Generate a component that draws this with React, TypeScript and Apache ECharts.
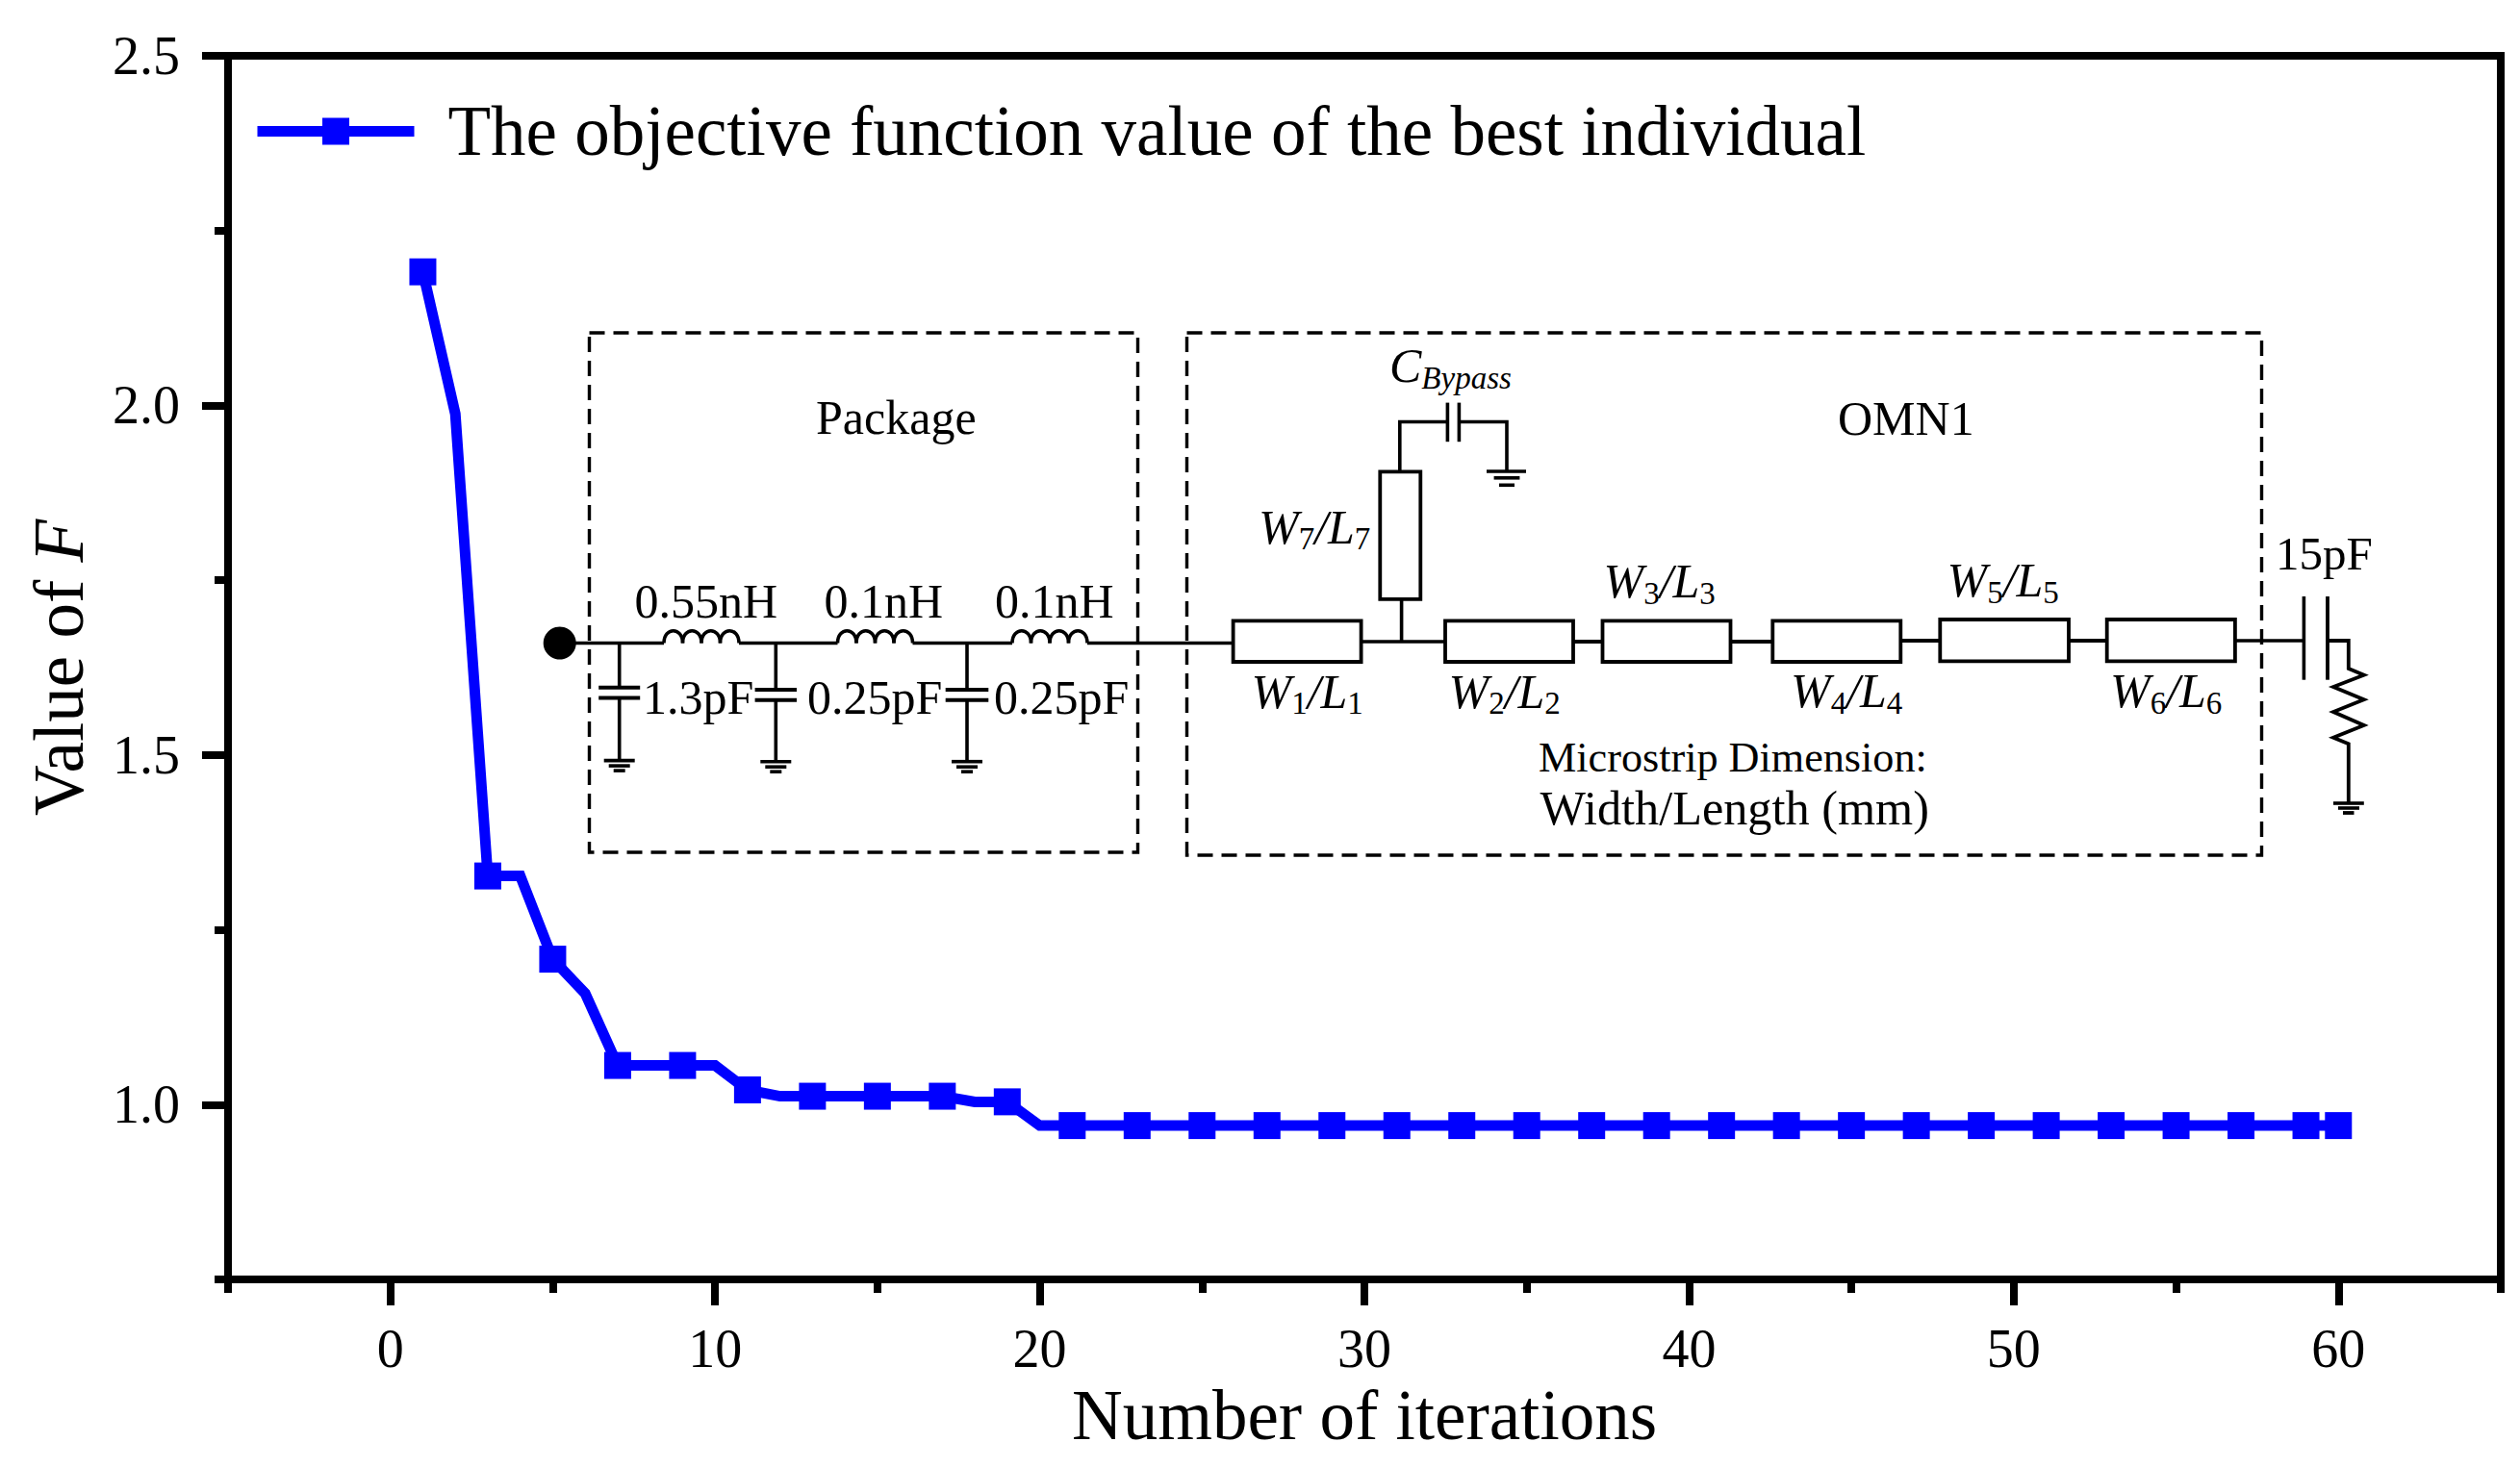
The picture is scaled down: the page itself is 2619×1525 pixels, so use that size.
import { useEffect, useRef } from 'react';
import * as echarts from 'echarts';

const seriesName = 'The objective function value of the best individual';

const iterations = [
  1, 2, 3, 4, 5, 6, 7, 8, 9, 10, 11, 12, 13, 14, 15, 16, 17, 18, 19, 20,
  21, 22, 23, 24, 25, 26, 27, 28, 29, 30, 31, 32, 33, 34, 35, 36, 37, 38, 39, 40,
  41, 42, 43, 44, 45, 46, 47, 48, 49, 50, 51, 52, 53, 54, 55, 56, 57, 58, 59, 60,
];
const bestValues = [
  2.191, 1.988, 1.327, 1.327, 1.208, 1.159, 1.056, 1.056, 1.056, 1.056,
  1.021, 1.012, 1.012, 1.012, 1.012, 1.012, 1.012, 1.004, 1.004, 0.97,
  0.97, 0.97, 0.97, 0.97, 0.97, 0.97, 0.97, 0.97, 0.97, 0.97,
  0.97, 0.97, 0.97, 0.97, 0.97, 0.97, 0.97, 0.97, 0.97, 0.97,
  0.97, 0.97, 0.97, 0.97, 0.97, 0.97, 0.97, 0.97, 0.97, 0.97,
  0.97, 0.97, 0.97, 0.97, 0.97, 0.97, 0.97, 0.97, 0.97, 0.97,
];
// markers on odd iterations, plus the last one
const markerIterations = [
  1, 3, 5, 7, 9, 11, 13, 15, 17, 19, 21, 23, 25, 27, 29, 31, 33, 35, 37, 39,
  41, 43, 45, 47, 49, 51, 53, 55, 57, 59, 60,
];

const xMajorTicks = [0, 10, 20, 30, 40, 50, 60];
const xMinorTicks = [-5, 5, 15, 25, 35, 45, 55, 65];
const yMajorTicks = [1, 1.5, 2, 2.5];
const yMinorTicks = [0.75, 1.25, 1.75, 2.25];

const FONT = '"Liberation Serif", "Times New Roman", serif';

// circuit drawing helpers
const wire = (points: number[][], lineWidth = 3.6) => ({
  type: 'polyline',
  silent: true,
  shape: { points },
  style: { stroke: '#000', fill: 'none', lineWidth, lineJoin: 'miter' },
});

const dashedBox = (x: number, y: number, width: number, height: number) => ({
  type: 'rect',
  silent: true,
  shape: { x, y, width, height },
  style: { stroke: '#000', fill: 'none', lineWidth: 3.4, lineDash: [16, 9] },
});

const strip = (x: number, y: number, width: number, height: number) => ({
  type: 'rect',
  silent: true,
  shape: { x, y, width, height },
  style: { stroke: '#000', fill: '#fff', lineWidth: 3.8 },
});

const ground = (x: number, y: number) => [
  wire([[x - 16, y], [x + 16, y]]),
  wire([[x - 11, y + 5.5], [x + 11, y + 5.5]]),
  wire([[x - 6, y + 10.5], [x + 6, y + 10.5]]),
];

const inductor = (x: number, y: number) =>
  [0, 1, 2, 3].map((i) => ({
    type: 'bezierCurve',
    silent: true,
    shape: {
      x1: x + i * 19.5,
      y1: y,
      x2: x + (i + 1) * 19.5,
      y2: y,
      cpx1: x + i * 19.5,
      cpy1: y - 17,
      cpx2: x + (i + 1) * 19.5,
      cpy2: y - 17,
    },
    style: { stroke: '#000', fill: 'none', lineWidth: 3.6 },
  }));

const shuntCap = (x: number, half: number, plateTop: number, plateGap: number, groundY: number) => [
  wire([[x, 668.5], [x, plateTop]]),
  wire([[x - half, plateTop], [x + half, plateTop]], 4),
  wire([[x - half, plateTop + plateGap], [x + half, plateTop + plateGap]], 4),
  wire([[x, plateTop + plateGap], [x, groundY]]),
  ...ground(x, groundY),
];

const label = (text: string, x: number, baseline: number, fontSize = 50, align = 'left') => ({
  type: 'text',
  silent: true,
  x,
  y: baseline - fontSize * 0.34,
  style: {
    text,
    fontFamily: FONT,
    fontSize,
    fill: '#000',
    align,
    verticalAlign: 'middle',
  },
});

// W/L labels with upright subscripts
const stripLabel = (n: number, x: number, baseline: number) => ({
  type: 'text',
  silent: true,
  x,
  y: baseline - 42,
  style: {
    text: `{w|W}{s|${n}}{w|/L}{s|${n}}`,
    align: 'left',
    verticalAlign: 'top',
    rich: {
      w: { fontFamily: FONT, fontStyle: 'italic', fontSize: 50, lineHeight: 50, verticalAlign: 'top', fill: '#000' },
      s: { fontFamily: FONT, fontSize: 33, lineHeight: 54, verticalAlign: 'bottom', fill: '#000' },
    },
  },
});

const circuit = [
  dashedBox(612.5, 346, 570, 540),
  dashedBox(1233.5, 346, 1117, 543),

  // input and package
  { type: 'circle', silent: true, shape: { cx: 581.7, cy: 668.5, r: 17 }, style: { fill: '#000' } },
  wire([[598, 668.5], [690, 668.5]]),
  ...inductor(690, 668.5),
  wire([[768, 668.5], [870.5, 668.5]]),
  ...inductor(870.5, 668.5),
  wire([[948.5, 668.5], [1052, 668.5]]),
  ...inductor(1052, 668.5),
  wire([[1130, 668.5], [1282, 668.5]]),
  ...shuntCap(643.7, 21.5, 714.8, 10.7, 790.6),
  ...shuntCap(806.3, 21.7, 717, 10.7, 791.7),
  ...shuntCap(1005, 22.3, 717, 10.7, 791.7),

  // microstrip chain
  wire([[1414, 667], [1502, 667]]),
  wire([[1635, 667], [1666, 667]], 4),
  wire([[1798, 667], [1842, 667]], 4),
  wire([[1975, 666], [2016, 666]], 4),
  wire([[2150, 666], [2190, 666]], 4),
  wire([[2323, 666], [2394.4, 666]]),
  strip(1281.6, 645.4, 133, 42.6),
  strip(1502, 645.4, 133, 42.6),
  strip(1665.5, 645.4, 133, 42.6),
  strip(1842.3, 645.4, 133, 42.6),
  strip(2016.3, 644, 133.7, 43.3),
  strip(2189.7, 644, 133.2, 43.3),

  // stub and bypass capacitor
  wire([[1456.6, 623], [1456.6, 667]]),
  strip(1434.3, 490.4, 42, 132.5),
  wire([[1454.8, 490.4], [1454.8, 438.5], [1504.4, 438.5]]),
  wire([[1504.4, 418.6], [1504.4, 459.2]]),
  wire([[1516.4, 418.6], [1516.4, 459.2]]),
  wire([[1516.4, 438.5], [1566, 438.5], [1566, 490]]),
  wire([[1545, 490], [1586, 490]]),
  wire([[1552.6, 496.8], [1579.4, 496.8]]),
  wire([[1558, 504.3], [1574, 504.3]]),

  // output capacitor and load
  wire([[2394.4, 620], [2394.4, 706.7]]),
  wire([[2419, 620], [2419, 706.7]], 3.8),
  wire([
    [2419, 666], [2440.8, 666], [2440.8, 695], [2456.8, 701.7], [2425, 714], [2456.8, 727.3],
    [2425, 740], [2456.8, 754], [2425, 766.7], [2440.8, 773.3], [2440.8, 835],
  ], 3.8),
  wire([[2425, 835], [2456.8, 835]]),
  wire([[2430, 840], [2452, 840]]),
  wire([[2435, 845], [2446.5, 845]], 3.8),

  // texts
  label('Package', 848, 451.3),
  label('OMN1', 1910, 452),
  label('0.55nH', 659.6, 641.9),
  label('0.1nH', 856.5, 641.9),
  label('0.1nH', 1034, 641.9),
  label('1.3pF', 668, 741.8),
  label('0.25pF', 839, 741.8),
  label('0.25pF', 1033, 741.8),
  label('15pF', 2365, 591.7, 49),
  label('Microstrip Dimension:', 1599, 802.7, 44.2),
  label('Width/Length (mm)', 1600.5, 857, 50.3),
  stripLabel(1, 1300.5, 735.7),
  stripLabel(2, 1505.5, 735.7),
  stripLabel(3, 1666.5, 621),
  stripLabel(4, 1861, 735),
  stripLabel(5, 2023.5, 620),
  stripLabel(6, 2193, 735),
  stripLabel(7, 1308, 564.5),
  {
    type: 'text',
    silent: true,
    x: 1444,
    y: 397 - 42,
    style: {
      text: '{c|C}{s|Bypass}',
      align: 'left',
      verticalAlign: 'top',
      rich: {
        c: { fontFamily: FONT, fontStyle: 'italic', fontSize: 50, lineHeight: 50, verticalAlign: 'top', fill: '#000' },
        s: { fontFamily: FONT, fontStyle: 'italic', fontSize: 33, lineHeight: 54, verticalAlign: 'bottom', fill: '#000' },
      },
    },
  },
];

export default function App() {
  const chartRef = useRef<HTMLDivElement>(null);

  useEffect(() => {
    if (!chartRef.current) return;

    const chart = echarts.init(chartRef.current, undefined, { renderer: 'svg' });

    const axisText = { fontFamily: FONT, fontSize: 56, color: '#000' };
    const nameText = {
      fontFamily: FONT,
      fontSize: 73,
      color: '#000',
      rich: { i: { fontFamily: FONT, fontStyle: 'italic', fontSize: 73, color: '#000' } },
    };
    const line = { lineStyle: { color: '#000', width: 8 } };

    const option: any = {
      animation: false,
      backgroundColor: '#fff',
      grid: {
        left: 237,
        right: 20,
        top: 58,
        bottom: 195,
        outerBoundsMode: 'none',
        show: true,
        borderColor: '#000',
        borderWidth: 8,
      },
      legend: {
        left: 257,
        top: 95,
        itemWidth: 163,
        itemHeight: 35,
        data: [seriesName],
        lineStyle: { width: 11 },
        textStyle: { fontFamily: FONT, fontSize: 73, color: '#000', padding: [0, 0, 0, 30] },
      },
      xAxis: [
        {
          type: 'value',
          min: -5,
          max: 65,
          splitLine: { show: false },
          axisLine: { onZero: false, ...line },
          axisTick: { customValues: xMajorTicks, length: 27, ...line },
          axisLabel: { customValues: xMajorTicks, margin: 44, ...axisText },
          name: 'Number of iterations',
          nameLocation: 'middle',
          nameGap: 104,
          nameTextStyle: nameText,
        },
        {
          type: 'value',
          min: -5,
          max: 65,
          position: 'bottom',
          splitLine: { show: false },
          axisLine: { onZero: false, ...line },
          axisTick: { customValues: xMinorTicks, length: 14, ...line },
          axisLabel: { show: false },
        },
      ],
      yAxis: [
        {
          type: 'value',
          min: 0.75,
          max: 2.5,
          splitLine: { show: false },
          axisLine: { onZero: false, ...line },
          axisTick: { customValues: yMajorTicks, length: 27, ...line },
          axisLabel: {
            customValues: yMajorTicks,
            margin: 50,
            formatter: (v: number) => v.toFixed(1),
            ...axisText,
          },
          name: 'Value of {i|F}',
          nameLocation: 'middle',
          nameGap: 139,
          nameTextStyle: nameText,
        },
        {
          type: 'value',
          min: 0.75,
          max: 2.5,
          position: 'left',
          splitLine: { show: false },
          axisLine: { onZero: false, ...line },
          axisTick: { customValues: yMinorTicks, length: 14, ...line },
          axisLabel: { show: false },
        },
      ],
      series: [
        {
          name: seriesName,
          type: 'line',
          symbol: 'rect',
          symbolSize: 28,
          showAllSymbol: true,
          clip: false,
          itemStyle: { color: '#0000ff' },
          lineStyle: { color: '#0000ff', width: 11, join: 'miter' },
          data: iterations.map((it, i) =>
            markerIterations.includes(it)
              ? { value: [it, bestValues[i]] }
              : { value: [it, bestValues[i]], symbol: 'none' },
          ),
        },
      ],
      graphic: { elements: circuit },
    };

    chart.setOption(option);

    return () => {
      chart.dispose();
    };
  }, []);

  return (
    <div
      ref={chartRef}
      style={{ position: 'absolute', left: 0, top: 0, width: 2619, height: 1525 }}
    />
  );
}
